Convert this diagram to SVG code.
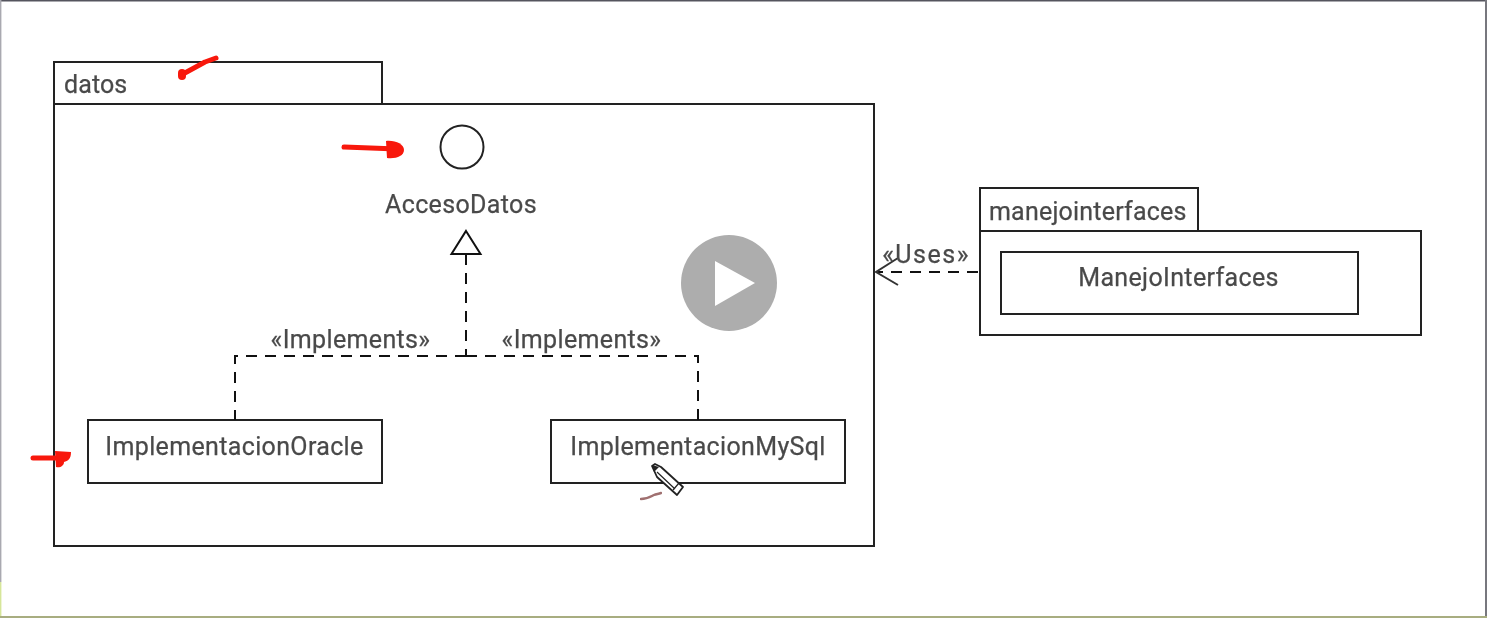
<svg xmlns="http://www.w3.org/2000/svg" width="1487" height="618" viewBox="0 0 1487 618">
<defs><filter id="soft" x="-5%" y="-20%" width="110%" height="140%"><feGaussianBlur stdDeviation="0.5"/></filter></defs>
<style>
.b{fill:#fff;stroke:#222;stroke-width:2}
.t{font-family:"Roboto","Liberation Sans",sans-serif;font-size:25px;letter-spacing:.35px;fill:#4a4a4a;stroke:#4a4a4a;stroke-width:.25;filter:url(#soft)}
.m{text-anchor:middle}
.c{fill:none;stroke:#111;stroke-width:2;stroke-dasharray:11 8}
.r{fill:none;stroke:#f8180c;stroke-linecap:round;stroke-linejoin:round}
</style>
<rect width="1487" height="618" fill="#fff"/>
<g id="frame">
<path d="M0 .8H1487" stroke="#55555e" stroke-width="1.6" fill="none"/>
<path d="M.7 0V582" stroke="#a9a9b0" stroke-width="1.4" fill="none"/>
<path d="M.7 582V618" stroke="#d6e69a" stroke-width="1.4" fill="none"/>
<path d="M1486 0V618" stroke="#77777e" stroke-width="2" fill="none"/>
<path d="M0 617H1487" stroke="#a8ad80" stroke-width="2" fill="none"/>
</g>
<g id="datos">
<rect class="b" x="54" y="62" width="328" height="42"/>
<rect class="b" x="54" y="104" width="820" height="442"/>
<text class="t" x="64" y="92.500" style="letter-spacing:.1px">datos</text>
</g>
<g id="accesoDatos">
<circle class="b" cx="462" cy="147" r="21.500"/>
<text class="t m" x="461" y="212.500">AccesoDatos</text>
</g>
<g id="implementacionOracle">
<rect class="b" x="88" y="420" width="294" height="63"/>
<text class="t m" x="234.500" y="454.500">ImplementacionOracle</text>
</g>
<g id="implementacionMySql">
<rect class="b" x="551" y="420" width="294" height="63"/>
<text class="t m" x="698" y="454.500">ImplementacionMySql</text>
</g>
<g id="manejointerfaces">
<rect class="b" x="980" y="188" width="218" height="43"/>
<rect class="b" x="980" y="231" width="441" height="104"/>
<text class="t" x="989" y="219.500" style="letter-spacing:.2px">manejointerfaces</text>
</g>
<g id="manejoInterfacesClass">
<rect class="b" x="1001" y="252" width="357" height="62"/>
<text class="t m" x="1178.500" y="285.500">ManejoInterfaces</text>
</g>
<g id="connectors">
<path class="c" d="M466 254V356"/>
<path class="c" d="M466 356H235V420"/>
<path class="c" d="M466 356H698V420"/>
<path d="M466 231L480.500 254H451.500Z" fill="#fff" stroke="#111" stroke-width="2"/>
<path class="c" d="M978 272H878"/>
<path d="M898 258L876 272L898 285" fill="none" stroke="#333" stroke-width="2"/>
<text class="t m" x="926" y="262.500" style="letter-spacing:1.500px">«Uses»</text>
<text class="t m" x="350.500" y="347.500">«Implements»</text>
<text class="t m" x="581.500" y="347.500">«Implements»</text>
</g>
<g id="annotations">
<path class="r" stroke-width="5" d="M216 58L205 62L183 74"/>
<path class="r" stroke-width="8" d="M182 73L182 76"/>
<path class="r" stroke-width="5" d="M344 147L397 149"/>
<path d="M386 141C395 140 404 144 404 150C404 156 396 159 387 158Z" fill="#f8180c"/>
<path class="r" stroke-width="5" d="M33 458L62 458"/>
<path d="M55 451L71 452C71 459 68 461 64 462C64 466 60 468 56 467Z" fill="#f8180c"/>
<path fill="none" stroke="#a07070" stroke-width="2.500" stroke-linecap="round" filter="url(#soft)" d="M641 499C647 499 650 497 654 495C656 494 658 494 661 493"/>
</g>
<g id="playButton">
<circle cx="729" cy="283" r="48" fill="#adadad"/>
<path d="M715 261L755 283L715 306Z" fill="#fff"/>
</g>
<g id="pencil">
<path d="M652 466L655 464L661 467L683 487L677 495L657 477Z" fill="#fff" stroke="#222" stroke-width="1.800" stroke-linejoin="round"/>
<path d="M673 490L679 483M657 472L675 489" fill="none" stroke="#222" stroke-width="1.200"/>
<path d="M652 465L659 467L654 472Z" fill="#222"/>
</g>
</svg>
